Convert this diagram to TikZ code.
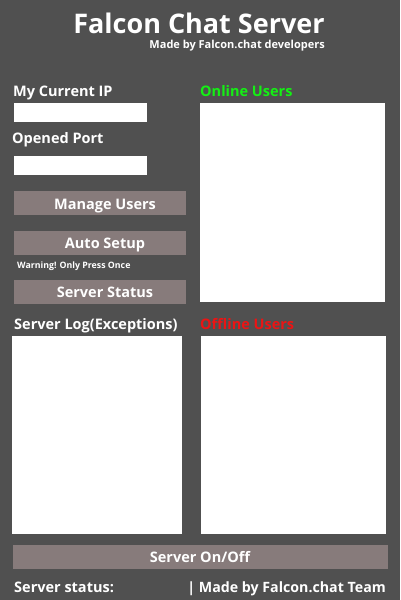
\documentclass[tikz,border=0pt]{standalone}
\usepackage{fontspec}
\setmainfont{Open Sans}
\definecolor{bg}{RGB}{80,80,80}
\definecolor{btn}{RGB}{135,123,123}
\definecolor{onl}{RGB}{20,240,20}
\definecolor{offl}{RGB}{235,20,20}
\tikzset{
  field/.style={fill=white,draw=none},
  btnbox/.style={fill=btn,draw=none},
  lbl/.style={anchor=base west,inner sep=0pt,text=white,font=\bfseries\fontsize{14.5}{16}\selectfont},
  btnlbl/.style={anchor=base,inner sep=0pt,text=white,font=\bfseries\fontsize{14.5}{16}\selectfont}
}
\begin{document}
\begin{tikzpicture}[x=1pt,y=-1pt]
\fill[bg] (0,0) rectangle (400,600);
\useasboundingbox (0,0) rectangle (400,600);
% title
\node[anchor=base,inner sep=0pt,text=white,font=\bfseries\fontsize{27}{32}\selectfont] (title) at (199,33) {Falcon Chat Server};
\node[anchor=base east,inner sep=0pt,text=white,font=\bfseries\fontsize{11}{12}\selectfont] (sub) at (325,48) {Made by Falcon.chat developers};
% left column
\node[lbl] (iplbl) at (13,96) {My Current IP};
\fill[field] (14,103) rectangle (147,122) coordinate (ipbox);
\node[lbl] (portlbl) at (12,143) {Opened Port};
\fill[field] (14,156) rectangle (147,175) coordinate (portbox);
\fill[btnbox] (14,191) rectangle (186,215);
\node[btnlbl] (manage) at (105,209) {Manage Users};
\fill[btnbox] (14,231) rectangle (186,255);
\node[btnlbl] (auto) at (105,248) {Auto Setup};
\node[anchor=base west,inner sep=0pt,text=white,font=\bfseries\fontsize{8.8}{10}\selectfont] (warn) at (17,268) {Warning! Only Press Once};
\fill[btnbox] (14,280) rectangle (186,304);
\node[btnlbl] (status) at (105,297) {Server Status};
\node[lbl] (loglbl) at (14,329) {Server Log(Exceptions)};
\fill[field] (12,336) rectangle (182,534);
% right column
\node[lbl,text=onl] (onlbl) at (200,96) {Online Users};
\fill[field] (200,103) rectangle (385,302);
\node[lbl,text=offl] (offlbl) at (200,329) {Offline Users};
\fill[field] (201,336) rectangle (386,534);
% bottom
\fill[btnbox] (13,545) rectangle (388,569);
\node[btnlbl] (onoff) at (200,562) {Server On/Off};
\node[lbl] (stat) at (14,592) {Server status:};
\node[anchor=base east,inner sep=0pt,text=white,font=\bfseries\fontsize{14.2}{16}\selectfont] (team) at (386,592) {| Made by Falcon.chat Team};
\end{tikzpicture}
\end{document}
